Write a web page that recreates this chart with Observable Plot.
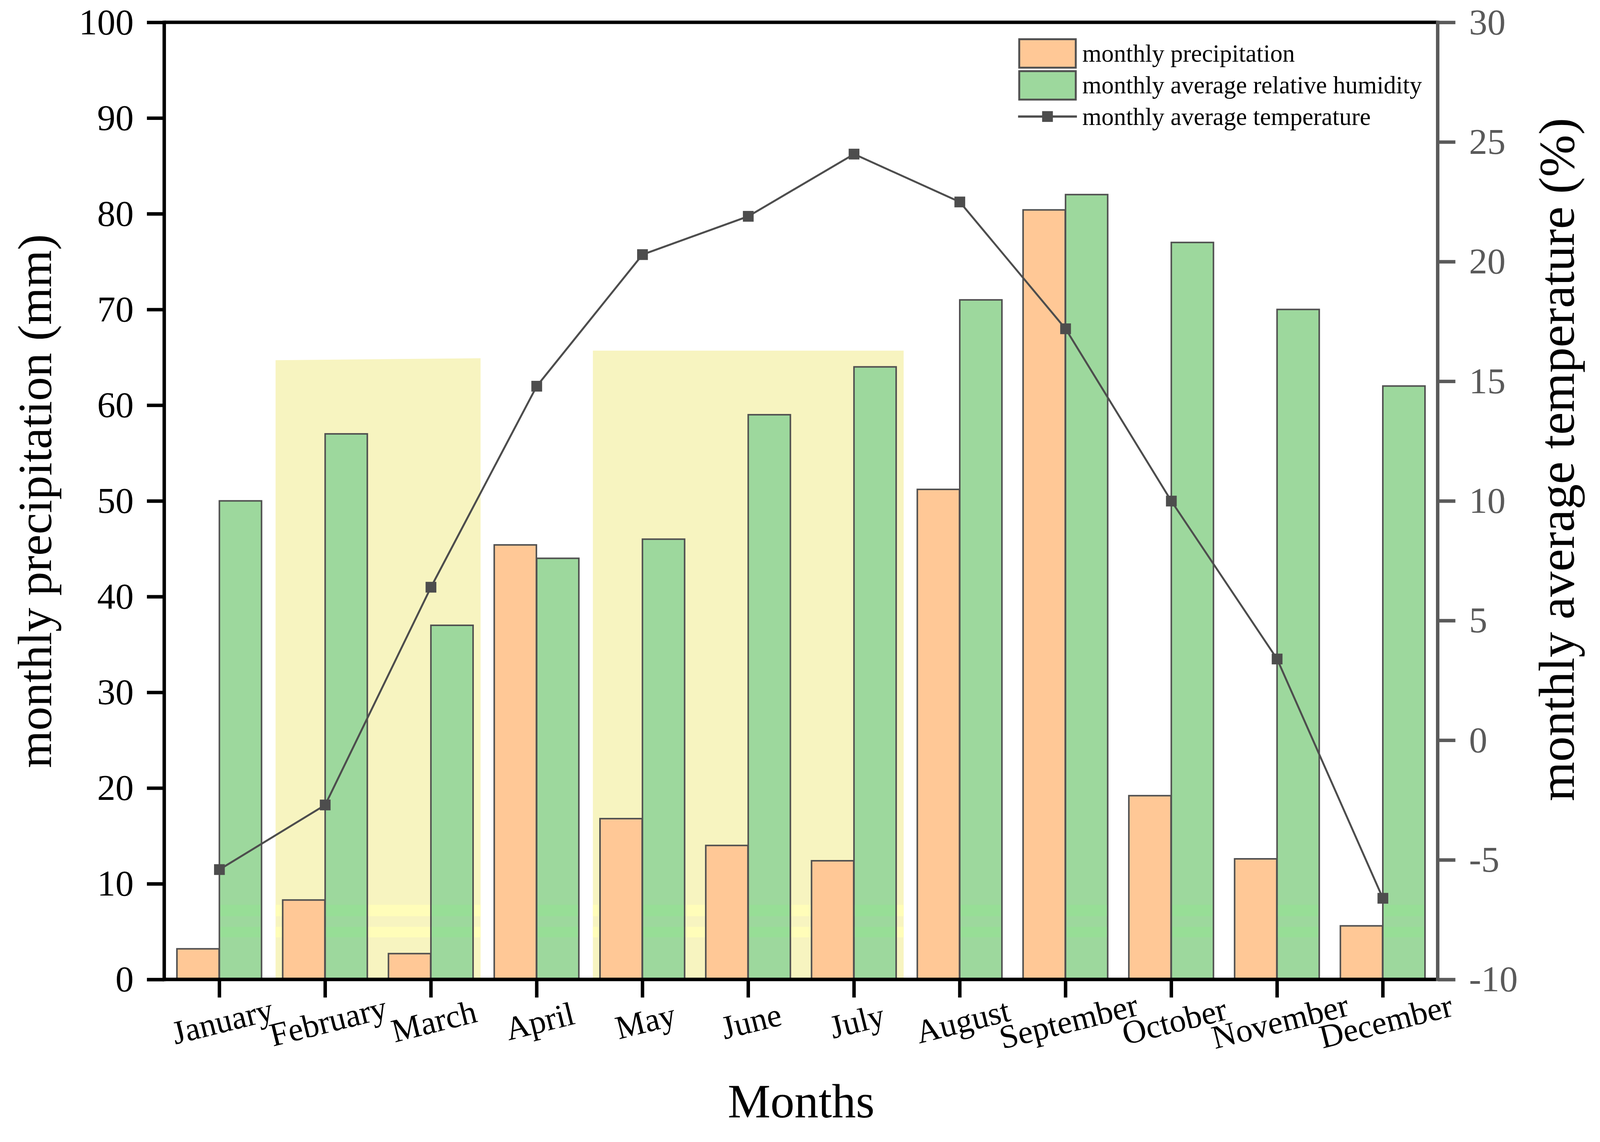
<!DOCTYPE html>
<html>
<head>
<meta charset="utf-8">
<script src="https://cdn.jsdelivr.net/npm/d3@7"></script>
<script src="https://cdn.jsdelivr.net/npm/@observablehq/plot@0.6"></script>
<style>
  html, body { margin: 0; padding: 0; background: #ffffff; }
  #chart svg { display: block; }
</style>
</head>
<body>
<div id="chart"></div>
<script>
// ---------------- data ----------------
const months = ["January", "February", "March", "April", "May", "June",
                "July", "August", "September", "October", "November", "December"];
const precipitation = [3.2, 8.3, 2.7, 45.4, 16.8, 14.0, 12.4, 51.2, 80.4, 19.2, 12.6, 5.6];   // mm
const humidity      = [50, 57, 37, 44, 46, 59, 64, 71, 82, 77, 70, 62];                       // %
const temperature   = [-5.4, -2.7, 6.4, 14.8, 20.3, 21.9, 24.5, 22.5, 17.2, 10.0, 3.4, -6.6]; // °C
const leftTicks  = [0, 10, 20, 30, 40, 50, 60, 70, 80, 90, 100];
const rightTicks = [-10, -5, 0, 5, 10, 15, 20, 25, 30];
const leftDomain  = [0, 100];
const rightDomain = [-10, 30];
const seriesNames = ["monthly precipitation", "monthly average relative humidity", "monthly average temperature"];
// shaded periods (value of the top edge at start / end, in mm)
const highlightFrom = ["February", "May"];
const highlightTo   = ["March", "July"];
const highlightTopStart = [64.7, 65.7];
const highlightTopEnd   = [64.9, 65.7];
// faint lighter stripes near the bottom (mm)
const stripeLow  = [4.4, 6.6];
const stripeHigh = [5.5, 7.8];

// ---------------- styling ----------------
const FONT = "Liberation Serif";
const C_PRECIP = "#FFC896";
const C_HUMID  = "#9DD89D";
const C_HUMID_STRIPE = "#97DE96";
const C_YELLOW = "#F7F4C0";
const C_YELLOW_STRIPE = "#FFFDB9";
const C_EDGE = "#505050";
const C_LINE = "#4D4D4D";
const C_RIGHT = "#5A5A5A";

const W = 4160, H = 2924;
const mL = 427, mR = 422, mT = 58, mB = 377;
const PAD_INNER = 0.2, PAD_OUTER = 0.1;
const step = (W - mL - mR) / months.length;
const bw = step * (1 - PAD_INNER);

// map right-axis values onto the left scale
const toLeft = t => leftDomain[0] + (t - rightDomain[0]) / (rightDomain[1] - rightDomain[0]) * (leftDomain[1] - leftDomain[0]);
const fromLeft = v => rightDomain[0] + (v - leftDomain[0]) / (leftDomain[1] - leftDomain[0]) * (rightDomain[1] - rightDomain[0]);

const precipRows = months.map((m, i) => ({month: m, value: precipitation[i]}));
const humidRows  = months.map((m, i) => ({month: m, value: humidity[i]}));
const tempRows   = months.map((m, i) => ({month: m, value: temperature[i]}));
const stripeRows = months.flatMap(m => stripeLow.map((lo, j) => ({month: m, lo, hi: stripeHigh[j]})));
const highlightRows = highlightFrom.map((f, i) => ({from: f, to: highlightTo[i], top0: highlightTopStart[i], top1: highlightTopEnd[i]}));

// shaded background periods
function highlightMark(index, scales) {
  const {x, y} = scales;
  const st = x(months[1]) - x(months[0]);
  const gap = st * PAD_INNER;
  const g = d3.create("svg:g");
  for (const h of highlightRows) {
    const x1 = x(h.from) - gap / 2 + 9;
    const x2 = x(h.to) + st - gap / 2 - 8;
    g.append("polygon")
      .attr("points", [[x1, y(0)], [x1, y(h.top0)], [x2, y(h.top1)], [x2, y(0)]].map(p => p.join(",")).join(" "))
      .attr("fill", C_YELLOW);
    stripeLow.forEach((lo, j) => {
      g.append("rect")
        .attr("x", x1).attr("width", x2 - x1)
        .attr("y", y(stripeHigh[j])).attr("height", y(lo) - y(stripeHigh[j]))
        .attr("fill", C_YELLOW_STRIPE);
    });
  }
  return g.node();
}

// axis lines (frame)
function frameMark(index, scales, values, dims) {
  const {width, height, marginLeft, marginRight, marginTop, marginBottom} = dims;
  const L = marginLeft, R = width - marginRight, T = marginTop, B = height - marginBottom;
  const g = d3.create("svg:g").attr("stroke-linecap", "butt");
  const ln = (x1, y1, x2, y2, c) => g.append("line")
    .attr("x1", x1).attr("y1", y1).attr("x2", x2).attr("y2", y2)
    .attr("stroke", c).attr("stroke-width", 9);
  ln(L, T, R, T, "#000");
  ln(R, T - 4.5, R, B + 4.5, C_RIGHT);
  ln(L - 4.5, B, R - 4.5, B, "#000");
  ln(L, T - 4.5, L, B + 4.5, "#000");
  return g.node();
}

// legend inside the plot, top right
function legendMark(index, scales, values, dims) {
  const R = dims.width - dims.marginRight;
  const T = dims.marginTop;
  const sx = R - 1088, sw = 147, tx = R - 924;
  const g = d3.create("svg:g").attr("font-family", FONT).attr("font-size", 64)
    .attr("fill", "#000").attr("text-anchor", "start");
  const swatches = [C_PRECIP, C_HUMID];
  swatches.forEach((c, i) => {
    const top = T + 44 + i * 83;
    g.append("rect").attr("x", sx).attr("y", top).attr("width", sw).attr("height", 74)
      .attr("fill", c).attr("stroke", C_EDGE).attr("stroke-width", 5);
    g.append("text").attr("x", tx).attr("y", top + 58).attr("text-anchor", "start").text(seriesNames[i]);
  });
  const ly = T + 245;
  g.append("line").attr("x1", sx - 3).attr("x2", sx + sw + 3).attr("y1", ly).attr("y2", ly)
    .attr("stroke", C_LINE).attr("stroke-width", 6);
  g.append("rect").attr("x", sx + sw / 2 - 14).attr("y", ly - 14).attr("width", 28).attr("height", 28).attr("fill", C_LINE);
  g.append("text").attr("x", tx).attr("y", ly + 22).attr("text-anchor", "start").text(seriesNames[2]);
  return g.node();
}

const chart = Plot.plot({
  width: W,
  height: H,
  marginLeft: mL,
  marginRight: mR,
  marginTop: mT,
  marginBottom: mB,
  style: {fontFamily: FONT, background: "#ffffff", color: "#000000", overflow: "visible"},
  x: {type: "band", domain: months, paddingInner: PAD_INNER, paddingOuter: PAD_OUTER, label: null},
  y: {domain: leftDomain, label: null},
  marks: [
    highlightMark,
    Plot.barY(precipRows, {x: "month", y: "value", fill: C_PRECIP, stroke: C_EDGE, strokeWidth: 4, insetRight: bw / 2}),
    Plot.barY(humidRows, {x: "month", y: "value", fill: C_HUMID, stroke: C_EDGE, strokeWidth: 4, insetLeft: bw / 2}),
    Plot.barY(stripeRows, {x: "month", y1: "lo", y2: "hi", fill: C_HUMID_STRIPE, insetLeft: bw / 2 + 2.5, insetRight: 2.5}),
    Plot.line(tempRows, {x: "month", y: d => toLeft(d.value), stroke: C_LINE, strokeWidth: 5}),
    Plot.dot(tempRows, {x: "month", y: d => toLeft(d.value), symbol: "square", r: 15.8, fill: C_LINE, stroke: "none"}),
    Plot.axisY(leftTicks, {anchor: "left", tickSize: 45, tickPadding: 35, fontSize: 95, strokeWidth: 9,
      stroke: "#000", fill: "#000", label: null}),
    Plot.axisY(rightTicks.map(toLeft), {anchor: "right", tickSize: 45, tickPadding: 36, fontSize: 95, strokeWidth: 9,
      stroke: C_RIGHT, fill: C_RIGHT, label: null, tickFormat: v => String(Math.round(fromLeft(v)))}),
    Plot.axisX({anchor: "bottom", tickSize: 47, tickPadding: 30, tickRotate: -14, textAnchor: "middle", lineAnchor: "top",
      fontSize: 86, strokeWidth: 9, stroke: "#000", fill: "#000", label: null}),
    frameMark,
    Plot.text(["Months"], {text: d => d, frameAnchor: "bottom", dy: 318, fontSize: 125, lineAnchor: "middle", fill: "#000"}),
    Plot.text(["monthly precipitation (mm)"], {text: d => d, frameAnchor: "left", dx: -334, rotate: -90,
      fontSize: 125, lineAnchor: "middle", textAnchor: "middle", fill: "#000"}),
    Plot.text(["monthly average temperature (%)"], {text: d => d, frameAnchor: "right", dx: 311, dy: -108, rotate: -90,
      fontSize: 132, lineAnchor: "middle", textAnchor: "middle", fill: "#000"}),
    legendMark
  ]
});

document.getElementById("chart").appendChild(chart);
</script>
</body>
</html>
